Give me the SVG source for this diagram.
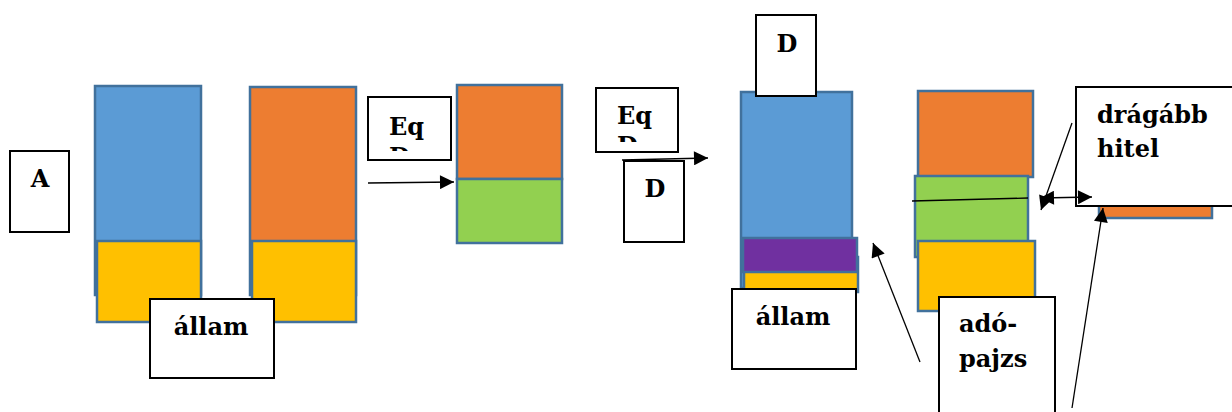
<svg xmlns="http://www.w3.org/2000/svg" width="1232" height="412" viewBox="0 0 1232 412">
<style>
.bl{fill:#5B9BD5;stroke:#41719C;stroke-width:2.5}
.or{fill:#ED7D31;stroke:#41719C;stroke-width:2.5}
.ye{fill:#FFC000;stroke:#41719C;stroke-width:2.5}
.gr{fill:#92D050;stroke:#41719C;stroke-width:2.5}
.pu{fill:#7030A0;stroke:#41719C;stroke-width:2.5}
.box{fill:#fff;stroke:#000;stroke-width:2}
.t{font-family:"DejaVu Serif","Liberation Serif",serif;font-weight:bold;font-size:24px;fill:#000}
.ln{stroke:#000;stroke-width:1.3;fill:none}
</style>
<defs>
<marker id="ah" viewBox="0 0 10 10" refX="10" refY="5" markerWidth="17" markerHeight="14" markerUnits="userSpaceOnUse" orient="auto-start-reverse">
<path d="M0,0L10,5L0,10z" fill="#000"/>
</marker>
<clipPath id="c1"><rect x="368" y="97" width="83" height="54"/></clipPath>
<clipPath id="c2"><rect x="596" y="88" width="82" height="54"/></clipPath>
</defs>
<rect width="1232" height="412" fill="#fff"/>

<g id="stack1">
<rect class="bl" x="95" y="86" width="106" height="209"/>
<rect class="ye" x="97" y="241" width="104" height="81"/>
</g>
<g id="stack2">
<rect class="or" x="250" y="87" width="106" height="208"/>
<rect class="ye" x="252" y="241" width="104" height="81"/>
</g>
<g id="stack3">
<rect class="or" x="457" y="85" width="105" height="94"/>
<rect class="gr" x="457" y="179" width="105" height="64"/>
</g>
<g id="stack4">
<rect class="bl" x="741" y="92" width="111" height="196"/>
<rect class="ye" x="744" y="257" width="114" height="35"/>
<rect class="pu" x="743" y="238" width="114" height="34"/>
</g>
<g id="stack5">
<rect class="or" x="918" y="91" width="115" height="86"/>
<rect class="gr" x="915" y="176" width="113" height="81"/>
<rect class="ye" x="918" y="241" width="117" height="70"/>
</g>
<g id="stack6">
<rect class="or" x="1099" y="180" width="113" height="38"/>
</g>

<g id="lblA">
<rect class="box" x="10" y="151" width="59" height="81"/>
<text class="t" x="40" y="187" text-anchor="middle">A</text>
</g>
<g id="lblAllam1">
<rect class="box" x="150" y="299" width="124" height="79"/>
<text class="t" x="211" y="335" text-anchor="middle">állam</text>
</g>
<g id="lblEqD1">
<rect class="box" x="368" y="97" width="83" height="63"/>
<text class="t" x="389" y="135" clip-path="url(#c1)">Eq<tspan x="389" dy="30">D</tspan></text>
</g>
<g id="lblEqD2">
<rect class="box" x="596" y="88" width="82" height="64"/>
<text class="t" x="617" y="124" clip-path="url(#c2)">Eq<tspan x="617" dy="30">D</tspan></text>
</g>
<g id="lblD1">
<rect class="box" x="624" y="161" width="60" height="81"/>
<text class="t" x="655" y="197" text-anchor="middle">D</text>
</g>
<g id="lblD2">
<rect class="box" x="756" y="15" width="60" height="81"/>
<text class="t" x="787" y="52" text-anchor="middle">D</text>
</g>
<g id="lblAllam2">
<rect class="box" x="732" y="289" width="124" height="80"/>
<text class="t" x="793" y="325" text-anchor="middle">állam</text>
</g>
<g id="lblAdo">
<rect class="box" x="939" y="297" width="116" height="125"/>
<text class="t" x="959" y="332">adó-</text>
<text class="t" x="959" y="367">pajzs</text>
</g>
<g id="lblDragabb">
<rect class="box" x="1076" y="87" width="170" height="119"/>
<text class="t" x="1097" y="123">drágább</text>
<text class="t" x="1097" y="157">hitel</text>
</g>

<g id="connectors">
<line class="ln" x1="368" y1="183" x2="454" y2="182" marker-end="url(#ah)"/>
<line class="ln" x1="622" y1="160" x2="708" y2="158" marker-end="url(#ah)"/>
<line class="ln" x1="920" y1="362" x2="873" y2="243" marker-end="url(#ah)"/>
<line class="ln" x1="912" y1="201" x2="1028" y2="198"/>
<line class="ln" x1="1040" y1="198" x2="1092" y2="197" marker-start="url(#ah)" marker-end="url(#ah)"/>
<line class="ln" x1="1072" y1="123" x2="1041" y2="210" marker-end="url(#ah)"/>
<line class="ln" x1="1072" y1="408" x2="1103" y2="208" marker-end="url(#ah)"/>
</g>
</svg>
